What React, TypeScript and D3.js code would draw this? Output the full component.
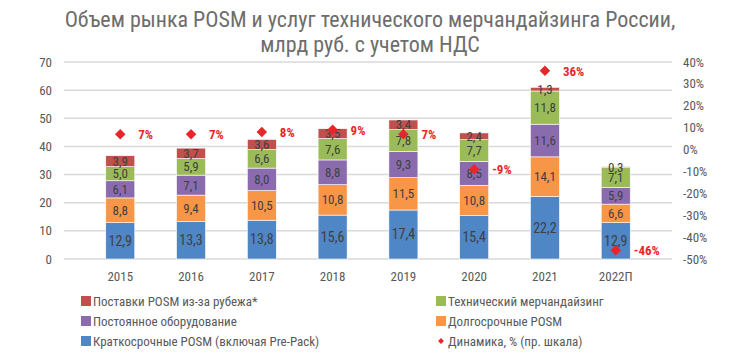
import React, { useEffect, useRef } from 'react';
import * as d3 from 'd3';

const years = ['2015', '2016', '2017', '2018', '2019', '2020', '2021', '2022П'];
const shortPosm = [12.9, 13.3, 13.8, 15.6, 17.4, 15.4, 22.2, 12.9];
const longPosm = [8.8, 9.4, 10.5, 10.8, 11.5, 10.8, 14.1, 6.6];
const equipment = [6.1, 7.1, 8.0, 8.8, 9.3, 8.5, 11.6, 5.9];
const merch = [5.0, 5.9, 6.6, 7.6, 7.8, 7.7, 11.8, 7.1];
const imports = [3.9, 3.7, 3.6, 3.5, 3.4, 2.4, 1.3, 0.3];
const growth = [7, 7, 8, 9, 7, -9, 36, -46];

const leftTicks = [0, 10, 20, 30, 40, 50, 60, 70];
const rightTicks = [-50, -40, -30, -20, -10, 0, 10, 20, 30, 40];

const seriesNames = [
  'Краткосрочные POSM (включая Pre-Pack)',
  'Долгосрочные POSM',
  'Постоянное оборудование',
  'Технический мерчандайзинг',
  'Поставки POSM из-за рубежа*',
];
const seriesData = [shortPosm, longPosm, equipment, merch, imports];
const colors = ['#4f86c6', '#f79646', '#8a6cae', '#9bbb59', '#c0504d'];
const lineName = 'Динамика, % (пр. шкала)';

const FONT = '"Roboto Condensed", "Liberation Sans Narrow", "DejaVu Sans Condensed", sans-serif';
const fmt = (v: number) => v.toFixed(1).replace('.', ',');

export default function App() {
  const ref = useRef<SVGSVGElement>(null);

  useEffect(() => {
    const width = 739;
    const height = 358;
    const plot = { left: 64, right: 672, top: 62, bottom: 259 };

    const svg = d3.select(ref.current).attr('width', width).attr('height', height);
    svg.selectAll('*').remove();
    svg.append('rect').attr('width', width).attr('height', height).attr('fill', '#fff');

    // title
    const title = svg.append('text')
      .attr('text-anchor', 'middle')
      .attr('font-family', FONT)
      .attr('font-size', 22)
      .attr('fill', '#6d6d6d');
    title.append('tspan').attr('x', 370).attr('y', 27).text('Объем рынка POSM и услуг технического мерчандайзинга России,');
    title.append('tspan').attr('x', 370).attr('y', 52).text('млрд руб. с учетом НДС');

    const x = d3.scaleBand().domain(years).range([plot.left, plot.right]).padding(0.59);
    const y = d3.scaleLinear().domain([0, 70]).range([plot.bottom, plot.top]);
    const yR = d3.scaleLinear().domain([-50, 40]).range([plot.bottom, plot.top]);

    // gridlines
    svg.append('g').selectAll('line').data(leftTicks).join('line')
      .attr('x1', plot.left).attr('x2', plot.right)
      .attr('y1', d => y(d)).attr('y2', d => y(d))
      .attr('stroke', '#d9d9d9').attr('stroke-width', 1.5);

    // left axis labels
    svg.append('g').selectAll('text').data(leftTicks).join('text')
      .attr('x', 52).attr('y', d => y(d)).attr('dy', '0.35em')
      .attr('text-anchor', 'end')
      .attr('font-family', FONT).attr('font-size', 13).attr('fill', '#595959')
      .text(d => d);

    // right axis labels
    svg.append('g').selectAll('text').data(rightTicks).join('text')
      .attr('x', 683).attr('y', d => yR(d)).attr('dy', '0.35em')
      .attr('font-family', FONT).attr('font-size', 13).attr('fill', '#595959')
      .text(d => `${d}%`);

    // x labels
    svg.append('g').selectAll('text').data(years).join('text')
      .attr('x', d => x(d)! + x.bandwidth() / 2).attr('y', 281)
      .attr('text-anchor', 'middle')
      .attr('font-family', FONT).attr('font-size', 13).attr('fill', '#595959')
      .text(d => d);

    // stacked bars
    const rows = years.map((yr, i) => {
      const r: any = { year: yr };
      seriesData.forEach((s, k) => { r[k] = s[i]; });
      return r;
    });
    const stack = d3.stack<any>().keys(seriesData.map((_, k) => String(k)));
    const layers = stack(rows);

    layers.forEach((layer, k) => {
      const g = svg.append('g');
      g.selectAll('rect').data(layer).join('rect')
        .attr('x', d => x(d.data.year)!)
        .attr('width', x.bandwidth())
        .attr('y', d => y(d[1]))
        .attr('height', d => y(d[0]) - y(d[1]))
        .attr('fill', colors[k])
        .attr('stroke', '#fff').attr('stroke-width', 0.6);
      g.selectAll('text').data(layer).join('text')
        .attr('x', d => x(d.data.year)! + x.bandwidth() / 2)
        .attr('y', d => (y(d[0]) + y(d[1])) / 2)
        .attr('dy', '0.35em')
        .attr('text-anchor', 'middle')
        .attr('font-family', FONT).attr('font-size', k === 0 ? 14 : 13).attr('fill', '#404040')
        .text(d => fmt(d[1] - d[0]));
    });

    // growth markers
    const diamond = d3.symbol().type(d3.symbolDiamond2).size(70);
    const gm = svg.append('g');
    gm.selectAll('path').data(growth).join('path')
      .attr('d', diamond)
      .attr('transform', (d, i) => `translate(${x(years[i])! + x.bandwidth() / 2},${yR(d)})`)
      .attr('fill', '#e8262a');
    gm.selectAll('text').data(growth).join('text')
      .attr('x', (d, i) => x(years[i])! + x.bandwidth() / 2 + 18)
      .attr('y', d => yR(d))
      .attr('dy', '0.4em')
      .attr('font-family', FONT).attr('font-size', 13).attr('font-weight', 'bold').attr('fill', '#e8262a')
      .text(d => `${d}%`);

    // legend
    const legendItems = [
      { name: seriesNames[4], color: colors[4], col: 0, row: 0 },
      { name: seriesNames[3], color: colors[3], col: 1, row: 0 },
      { name: seriesNames[2], color: colors[2], col: 0, row: 1 },
      { name: seriesNames[1], color: colors[1], col: 1, row: 1 },
      { name: seriesNames[0], color: colors[0], col: 0, row: 2 },
    ];
    const colX = [81, 436];
    const rowY = [301, 321, 341];
    const lg = svg.append('g').attr('font-family', FONT).attr('font-size', 13).attr('fill', '#595959');
    legendItems.forEach(it => {
      lg.append('rect')
        .attr('x', colX[it.col]).attr('y', rowY[it.row] - 5)
        .attr('width', 10).attr('height', 10).attr('fill', it.color);
      lg.append('text')
        .attr('x', colX[it.col] + 12).attr('y', rowY[it.row]).attr('dy', '0.35em')
        .text(it.name);
    });
    lg.append('path')
      .attr('d', d3.symbol().type(d3.symbolDiamond2).size(22)())
      .attr('transform', `translate(${colX[1] + 5},${rowY[2]})`)
      .attr('fill', '#e8262a');
    lg.append('text')
      .attr('x', colX[1] + 12).attr('y', rowY[2]).attr('dy', '0.35em')
      .text(lineName);
  }, []);

  return <svg ref={ref} style={{ position: 'absolute', left: 0, top: 0 }} />;
}
